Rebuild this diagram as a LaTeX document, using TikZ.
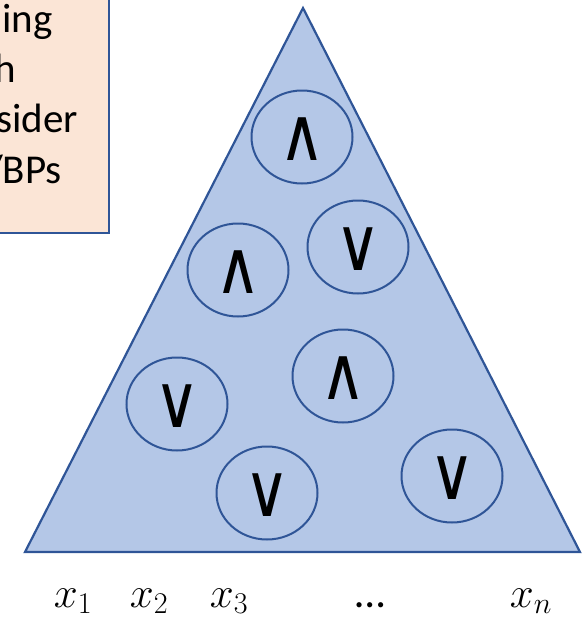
\RequirePackage{fix-cm}
\documentclass[tikz,border=0pt]{standalone}
\usepackage{fontspec}
\usetikzlibrary{shapes.geometric}
\setmainfont{Carlito}
\newfontfamily\symfont{DejaVu Sans}
\definecolor{triFill}{HTML}{B4C7E7}
\definecolor{edgeBlue}{HTML}{2F5597}
\definecolor{boxFill}{HTML}{FBE5D6}
\newcommand{\gatesym}[1]{\scalebox{1.2}[1.42]{#1}}
\begin{document}
\begin{tikzpicture}[x=1pt,y=-1pt,
  gate/.style={draw=edgeBlue,line width=2pt,fill=triFill,ellipse,minimum width=101pt,minimum height=93pt,inner sep=0pt},
  gatetxt/.style={font=\symfont\fontsize{52}{52}\selectfont,inner sep=0pt,yshift=-2pt},
  boxtxt/.style={font=\fontsize{41}{48}\selectfont,anchor=base east,inner sep=0pt},
  varlbl/.style={font=\fontsize{43}{48}\selectfont,anchor=base,inner sep=0pt}]
\useasboundingbox (0,0) rectangle (584,624);
% text box (cut off at the left)
\begin{scope}
\clip (0,0) rectangle (120,240);
\draw[edgeBlue,line width=1.5pt,fill=boxFill] (-10,-10) rectangle (109,233);
\node[boxtxt] (l1) at (53,32) {ing};
\node[boxtxt] (l2) at (16,82) {h};
\node[boxtxt] (l3) at (78,132) {sider};
\node[boxtxt] (l4) at (62,183) {/BPs};
\end{scope}
% triangle
\coordinate (apex) at (303,8);
\coordinate (bl) at (25,552);
\coordinate (br) at (580,552);
\draw[edgeBlue,line width=2.2pt,fill=triFill,line join=miter] (apex) -- (bl) -- (br) -- cycle;
% gates
\node[gate] (g1) at (302,137) {};
\node[gate] (g2) at (358,247) {};
\node[gate] (g3) at (238,270) {};
\node[gate] (g4) at (343,376) {};
\node[gate] (g5) at (177,404) {};
\node[gate] (g6) at (452,476) {};
\node[gate] (g7) at (267,493) {};
\node[gatetxt] at (g1) {\gatesym{∧}};
\node[gatetxt] at (g2) {\gatesym{∨}};
\node[gatetxt] at (g3) {\gatesym{∧}};
\node[gatetxt] at (g4) {\gatesym{∧}};
\node[gatetxt] at (g5) {\gatesym{∨}};
\node[gatetxt] at (g6) {\gatesym{∨}};
\node[gatetxt] at (g7) {\gatesym{∨}};
% variable labels
\node[varlbl] (x1) at (73,607) {$x_1$};
\node[varlbl] (x2) at (149,607) {$x_2$};
\node[varlbl] (x3) at (229,607) {$x_3$};
\node[varlbl] (dots) at (370,607) {…};
\node[varlbl] (xn) at (531,607) {$x_n$};
\end{tikzpicture}
\end{document}
